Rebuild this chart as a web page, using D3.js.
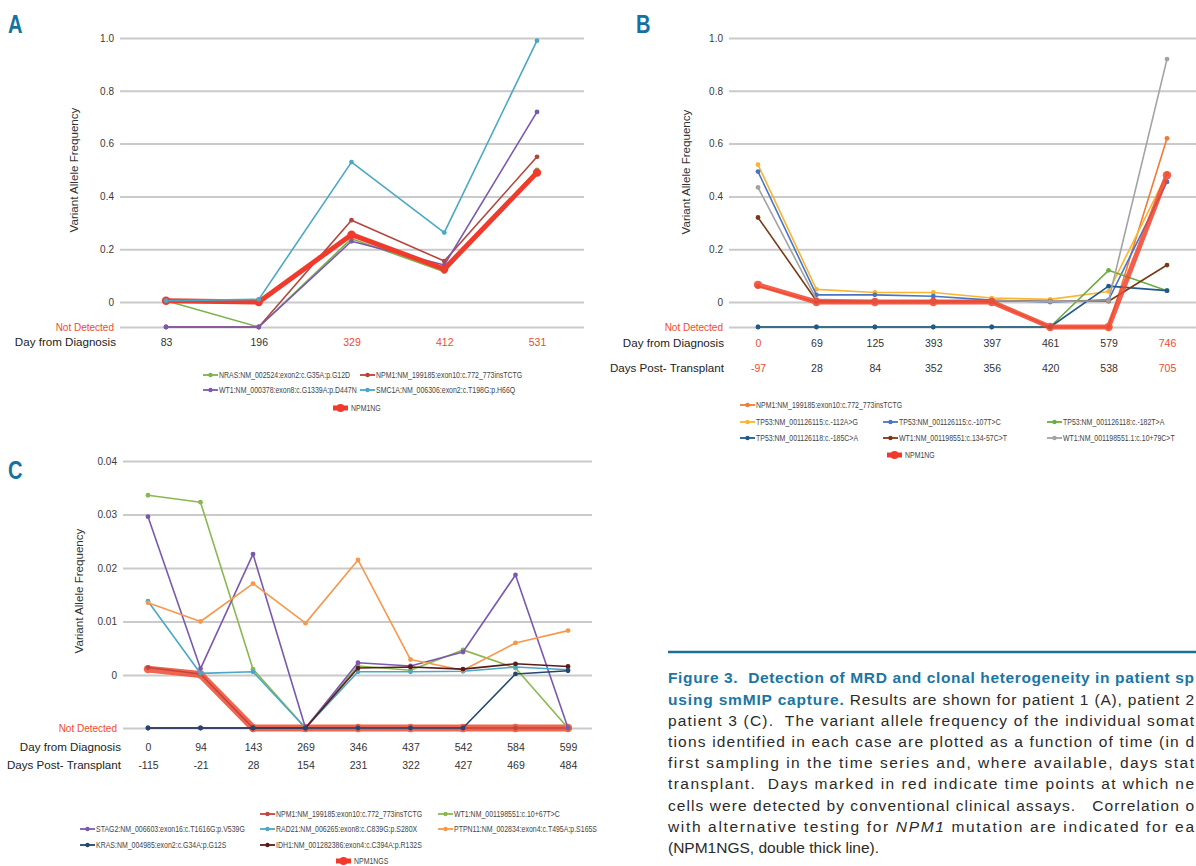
<!DOCTYPE html>
<html><head><meta charset="utf-8">
<script src="https://cdn.jsdelivr.net/npm/d3@7"></script>
<style>
html,body{margin:0;padding:0;background:#fff;}
svg{display:block;}
text{font-family:"Liberation Sans",Arial,Helvetica,sans-serif;}
.cap{white-space:pre;}
</style></head><body>
<svg id="fig" width="1196" height="866"></svg>
<script>
// ================= DATA =================
const ND = null; // "Not Detected"

// ---- Panel A ----
const daysA = ["83","196","329","412","531"];
const redDaysA = [false,false,true,true,true];
const namesA = ["NRAS:NM_002524:exon2:c.G35A:p.G12D","NPM1:NM_199185:exon10:c.772_773insTCTG","WT1:NM_000378:exon8:c.G1339A:p.D447N","SMC1A:NM_006306:exon2:c.T198G:p.H66Q","NPM1NG"];
const nrasA   = [0.005, ND, 0.24, 0.115, 0.50];
const npm1A   = [ND, ND, 0.31, 0.155, 0.55];
const wt1A    = [ND, ND, 0.23, 0.14, 0.72];
const smc1aA  = [0.005, 0.01, 0.53, 0.263, 0.99];
const npm1ngA = [0.005, 0.0, 0.255, 0.125, 0.49];

// ---- Panel B ----
const daysB = ["0","69","125","393","397","461","579","746"];
const postB = ["-97","28","84","352","356","420","538","705"];
const redDaysB = [true,false,false,false,false,false,false,true];
const namesB = ["NPM1:NM_199185:exon10:c.772_773insTCTG","TP53:NM_001126115:c.-112A>G","TP53:NM_001126115:c.-107T>C","TP53:NM_001126118:c.-182T>A","TP53:NM_001126118:c.-185C>A","WT1:NM_001198551:c.134-57C>T","WT1:NM_001198551.1:c.10+79C>T","NPM1NG"];
const npm1B    = [0.06, 0.0, 0.0, 0.0, 0.0, ND, ND, 0.62];
const tp53aB   = [0.52, 0.048, 0.036, 0.036, 0.015, 0.01, 0.04, 0.485];
const tp53bB   = [0.494, 0.027, 0.027, 0.022, 0.007, 0.0, 0.008, 0.455];
const tp53cB   = [ND, ND, ND, ND, ND, ND, 0.12, 0.043];
const tp53dB   = [ND, ND, ND, ND, ND, ND, 0.06, 0.043];
const wt1aB    = [0.32, 0.005, 0.005, 0.005, 0.004, 0.003, 0.003, 0.14];
const wt1bB    = [0.434, 0.01, 0.005, 0.005, 0.005, 0.002, 0.005, 0.92];
const npm1ngB  = [0.065, 0.0, 0.0, 0.0, 0.0, ND, ND, 0.48];

// ---- Panel C ----
const daysC = ["0","94","143","269","346","437","542","584","599"];
const postC = ["-115","-21","28","154","231","322","427","469","484"];
const redDaysC = [false,false,false,false,false,false,false,false,false];
const namesC = ["NPM1:NM_199185:exon10:c.772_773insTCTG","WT1:NM_001198551:c.10+67T>C","STAG2:NM_006603:exon16:c.T1616G:p.V539G","RAD21:NM_006265:exon8:c.C839G:p.S280X","PTPN11:NM_002834:exon4:c.T495A:p.S165S","KRAS:NM_004985:exon2:c.G34A:p.G12S","IDH1:NM_001282386:exon4:c.C394A:p.R132S","NPM1NGS"];
const npm1C    = [0.0014, 0.0002, ND, ND, ND, ND, ND, ND, ND];
const wt1C     = [0.0336, 0.0323, 0.0011, ND, 0.0017, 0.0009, 0.0047, 0.0013, ND];
const stag2C   = [0.0296, 0.0012, 0.0226, ND, 0.0023, 0.0017, 0.0043, 0.0187, ND];
const rad21C   = [0.0138, 0.0003, 0.0006, ND, 0.0006, 0.0006, 0.0007, 0.0015, 0.0010];
const ptpn11C  = [0.0135, 0.0100, 0.0171, 0.0097, 0.0215, 0.0029, 0.0009, 0.0060, 0.0083];
const krasC    = [ND, ND, ND, ND, ND, ND, ND, 0.0002, 0.0008];
const idh1C    = [ND, ND, ND, ND, 0.0013, 0.0015, 0.0011, 0.0021, 0.0016];
const npm1ngsC = [0.0011, 0.0001, ND, ND, ND, ND, ND, ND, ND];

// ---- axis ticks ----
const yTicksAB = [0, 0.2, 0.4, 0.6, 0.8, 1.0];
const yLabelsAB = ["0","0.2","0.4","0.6","0.8","1.0"];
const yTicksC = [0, 0.01, 0.02, 0.03, 0.04];
const yLabelsC = ["0","0.01","0.02","0.03","0.04"];

const captionLines = [
  [{t:"Figure 3.  Detection of MRD and clonal heterogeneity in patient sp", s:"b"}],
  [{t:"using smMIP capture.", s:"b"},{t:" Results are shown for patient 1 (A), patient 2", s:"r"}],
  [{t:"patient 3 (C).  The variant allele frequency of the individual somat", s:"r"}],
  [{t:"tions identified in each case are plotted as a function of time (in d", s:"r"}],
  [{t:"first sampling in the time series and, where available, days stat", s:"r"}],
  [{t:"transplant.  Days marked in red indicate time points at which ne", s:"r"}],
  [{t:"cells were detected by conventional clinical assays.   Correlation o", s:"r"}],
  [{t:"with alternative testing for ", s:"r"},{t:"NPM1", s:"i"},{t:" mutation are indicated for ea", s:"r"}],
  [{t:"(NPM1NGS, double thick line).", s:"r"}]
];

// ================= STYLES =================
const RED_TXT = "#f04b2c";
const LABEL_BLUE = "#15729e";
const stylesA = [
  {c:"#7cb24a", w:1.6}, {c:"#b4453d", w:1.6}, {c:"#7a58b0", w:1.6}, {c:"#4aa8c6", w:1.6}, {c:"#f03a2c", w:5, thick:true}
];
const stylesB = [
  {c:"#ef7b35", w:1.6}, {c:"#f8b530", w:1.6}, {c:"#4a73c6", w:1.6}, {c:"#6cab45", w:1.6},
  {c:"#1f5a8e", w:1.6}, {c:"#7b3a17", w:1.6}, {c:"#a3a3a3", w:1.6}, {c:"#f0452f", w:5, thick:true, op:0.85}
];
const stylesC = [
  {c:"#c2453e", w:1.6}, {c:"#8ab84f", w:1.6}, {c:"#7a58b0", w:1.6}, {c:"#4aa8c6", w:1.6},
  {c:"#f7984c", w:1.6}, {c:"#24466f", w:1.6}, {c:"#5c1b1b", w:1.6}, {c:"#ef553a", w:7, thick:true, op:0.9}
];

const svg = d3.select("#fig");

function condense(sel, ratio) {
  sel.each(function() {
    const w = this.getComputedTextLength();
    d3.select(this).attr("textLength", w * ratio).attr("lengthAdjust", "spacingAndGlyphs");
  });
}

function panel(cfg) {
  const g = svg.append("g");
  const x = d3.scalePoint().domain(d3.range(cfg.days.length)).range(cfg.xRange);
  const y = d3.scaleLinear().domain([cfg.ndValue, cfg.yMax]).range([cfg.yND, cfg.yTop]);

  // grid + y labels
  const ticks = [cfg.ndValue].concat(cfg.yTicks);
  const axis = d3.axisLeft(y).tickValues(ticks)
    .tickSizeInner(-(cfg.gridX1 - cfg.gridX0)).tickSizeOuter(0).tickPadding(6)
    .tickFormat((d,i) => i === 0 ? "Not Detected" : cfg.yLabels[i-1]);
  const ag = g.append("g").attr("transform", `translate(${cfg.gridX0},0)`).call(axis);
  ag.select(".domain").remove();
  ag.selectAll(".tick line").attr("stroke", "#cacaca").attr("stroke-width", 2);
  ag.selectAll(".tick text").attr("font-size", 10).attr("font-family", "Liberation Sans, Arial, sans-serif")
    .attr("fill", (d,i) => i === 0 ? RED_TXT : "#3a3a3a");

  // y title
  g.append("text").attr("transform", `translate(${cfg.yTitleX},${cfg.yTitleY}) rotate(-90)`)
    .attr("text-anchor", "middle").attr("dy", "0.35em").attr("font-size", 11.6).attr("fill", "#333")
    .text("Variant Allele Frequency");

  // x rows
  function row(labels, yPos, title) {
    const xa = d3.axisBottom(x).tickSize(0).tickPadding(0).tickFormat(i => labels[i]);
    const rg = g.append("g").attr("transform", `translate(0,${yPos})`).call(xa);
    rg.select(".domain").remove();
    rg.selectAll(".tick text").attr("y", 0).attr("dy", "0.35em").attr("font-size", 10.5)
      .attr("font-family", "Liberation Sans, Arial, sans-serif")
      .attr("fill", i => cfg.red[i] ? RED_TXT : "#333");
    g.append("text").attr("x", cfg.rowTitleX).attr("y", yPos).attr("dy", "0.35em")
      .attr("text-anchor", "end").attr("font-size", 11.6).attr("fill", "#222").text(title);
  }
  row(cfg.days, cfg.row1, "Day from Diagnosis");
  if (cfg.post) row(cfg.post, cfg.row2, "Days Post- Transplant");

  // series
  const yv = v => y(v === null ? cfg.ndValue : v);
  const line = d3.line().x((d,i) => x(i)).y(d => yv(d));
  cfg.order.forEach(k => {
    const s = cfg.series[k], st = cfg.styles[k];
    const sg = g.append("g").attr("opacity", st.op || 1);
    sg.append("path").datum(s).attr("d", line).attr("fill", "none")
      .attr("stroke", st.c).attr("stroke-width", st.w).attr("stroke-linejoin", "round").attr("stroke-linecap", "round");
    sg.selectAll("circle").data(s).join("circle")
      .attr("cx", (d,i) => x(i)).attr("cy", d => yv(d))
      .attr("r", st.thick ? 4.2 : 2.4).attr("fill", st.c);
  });

  // panel letter
  const lt = g.append("text").attr("x", cfg.letterX).attr("y", cfg.letterY)
    .attr("font-weight", "bold").attr("font-size", 26).attr("fill", LABEL_BLUE).text(cfg.letter);
  lt.attr("textLength", 14.5).attr("lengthAdjust", "spacingAndGlyphs");

  // legend
  cfg.legend.forEach(([k, lx, ly]) => {
    const st = cfg.styles[k];
    const lg = g.append("g");
    lg.append("line").attr("x1", lx).attr("x2", lx + 15).attr("y1", ly).attr("y2", ly)
      .attr("stroke", st.thick ? "#f03a2c" : st.c).attr("stroke-width", st.thick ? 5 : 1.8);
    lg.append("circle").attr("cx", lx + 7.5).attr("cy", ly).attr("r", st.thick ? 4 : 2.2)
      .attr("fill", st.thick ? "#f03a2c" : st.c);
    const tx = lg.append("text").attr("x", lx + (st.thick ? 18 : 16)).attr("y", ly).attr("dy", "0.35em")
      .attr("font-size", 8.2).attr("fill", "#444").text(cfg.names[k]);
    condense(tx, 0.85);
  });
}

panel({
  letter: "A", letterX: 8, letterY: 33,
  days: daysA, red: redDaysA, names: namesA, styles: stylesA,
  series: [nrasA, npm1A, wt1A, smc1aA, npm1ngA], order: [0,1,2,4,3],
  xRange: [166, 537], gridX0: 120, gridX1: 584,
  yTop: 38, yND: 327, yMax: 1.0, ndValue: -0.0947,
  yTicks: yTicksAB, yLabels: yLabelsAB,
  yTitleX: 74, yTitleY: 170, rowTitleX: 116, row1: 342,
  legend: [[0,203,375],[1,360,375],[2,203,390],[3,360,390],[4,333,408]]
});

panel({
  letter: "B", letterX: 636, letterY: 33,
  days: daysB, post: postB, red: redDaysB, names: namesB, styles: stylesB,
  series: [npm1B, tp53aB, tp53bB, tp53cB, tp53dB, wt1aB, wt1bB, npm1ngB], order: [0,1,2,3,4,5,6,7],
  xRange: [758, 1167], gridX0: 729, gridX1: 1200,
  yTop: 38, yND: 327, yMax: 1.0, ndValue: -0.0947,
  yTicks: yTicksAB, yLabels: yLabelsAB,
  yTitleX: 686, yTitleY: 172, rowTitleX: 724, row1: 343, row2: 368,
  legend: [[0,740,405],[1,740,422],[2,883,422],[3,1047,422],[4,740,438],[5,883,438],[6,1047,438],[7,887,455]]
});

panel({
  letter: "C", letterX: 8, letterY: 479,
  days: daysC, post: postC, red: redDaysC, names: namesC, styles: stylesC,
  series: [npm1C, wt1C, stag2C, rad21C, ptpn11C, krasC, idh1C, npm1ngsC], order: [7,0,1,2,3,4,6,5],
  xRange: [148, 568], gridX0: 123, gridX1: 592,
  yTop: 461, yND: 728, yMax: 0.04, ndValue: -0.0099,
  yTicks: yTicksC, yLabels: yLabelsC,
  yTitleX: 79, yTitleY: 591, rowTitleX: 121, row1: 747, row2: 765,
  legend: [[0,260,814],[1,438,814],[2,80,829],[3,260,829],[4,438,829],[5,80,845],[6,260,845],[7,336,861]]
});

// ================= CAPTION =================
svg.append("line").attr("x1", 668).attr("x2", 1196).attr("y1", 652).attr("y2", 652)
  .attr("stroke", "#1b6f9a").attr("stroke-width", 2.5);
captionLines.forEach((ln, i) => {
  const t = svg.append("text").attr("class", "cap").attr("x", 668).attr("y", 678 + i * 21.2).attr("dy", "0.35em")
    .attr("font-size", 15.5).attr("fill", "#2a2a2a");
  if (i < captionLines.length - 1) t.attr("textLength", 526).attr("lengthAdjust", "spacing");
  ln.forEach(seg => {
    const ts = t.append("tspan").text(seg.t);
    if (seg.s === "b") ts.attr("font-weight", "bold").attr("fill", "#1b75a4");
    if (seg.s === "i") ts.attr("font-style", "italic");
  });
});
</script>
</body></html>
